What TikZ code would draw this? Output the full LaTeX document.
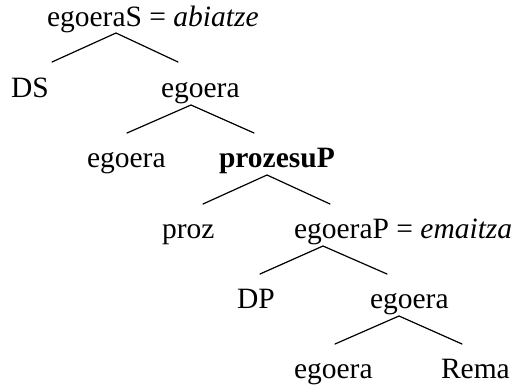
\documentclass[tikz,border=0pt]{standalone}
\usepackage{fontspec}
\setmainfont{Liberation Serif}
\begin{document}
\begin{tikzpicture}[x=0.5pt,y=-0.5pt,
  lbl/.style={anchor=base west,inner sep=0pt,outer sep=0pt,font=\fontsize{14.75pt}{17pt}\selectfont},
  branch/.style={line width=0.6pt,line cap=round}]
\useasboundingbox (0,0) rectangle (512,391);
% labels
\node[lbl] (root) at (47,26) {egoeraS = \textit{abiatze}};
\node[lbl] (ds) at (11,97) {DS};
\node[lbl] (eg1) at (161,97) {egoera};
\node[lbl] (eg2) at (87,167) {egoera};
\node[lbl] (pp) at (219,167) {\textbf{prozesuP}};
\node[lbl] (proz) at (162,238) {proz};
\node[lbl] (egp) at (294,238) {egoeraP = \textit{emaitza}};
\node[lbl] (dp) at (237,308) {DP};
\node[lbl] (eg4) at (370,308) {egoera};
\node[lbl] (eg5) at (294,378) {egoera};
\node[lbl] (rema) at (441,378) {Rema};
% branch points
\coordinate (a0) at (116,33); \coordinate (l0) at (52,62);  \coordinate (r0) at (178,62);
\coordinate (a1) at (191,105); \coordinate (l1) at (127,133); \coordinate (r1) at (254,133);
\coordinate (a2) at (267,175); \coordinate (l2) at (203,204); \coordinate (r2) at (330,204);
\coordinate (a3) at (323,246); \coordinate (l3) at (260,274); \coordinate (r3) at (387,274);
\coordinate (a4) at (399,316); \coordinate (l4) at (335,344); \coordinate (r4) at (462,344);
\foreach \i in {0,...,4} {
  \draw[branch] (l\i) -- (a\i) -- (r\i);
}
\end{tikzpicture}
\end{document}
